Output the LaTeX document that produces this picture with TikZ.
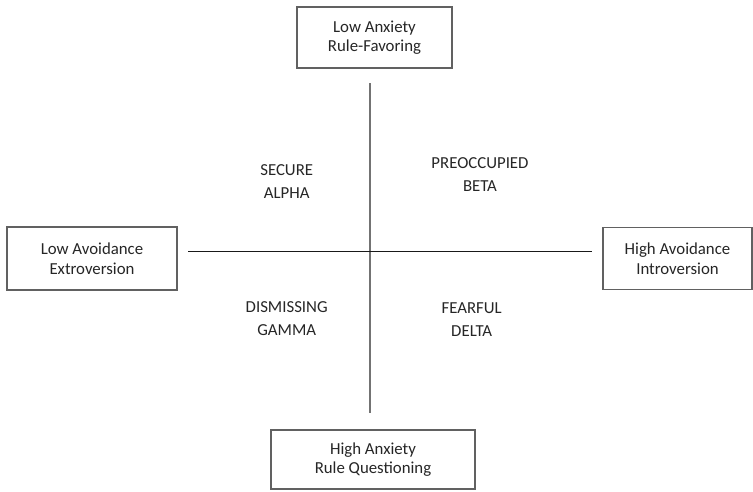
\documentclass[tikz,border=0pt]{standalone}
\usepackage{fontspec}
\setmainfont{Carlito}
\begin{document}
\begin{tikzpicture}[x=1pt,y=-1pt,
  pole/.style={draw=black!62, line width=1.6pt, fill=white, inner sep=0pt,
    align=center, font=\fontsize{16.8}{19.5}\selectfont, text=black!85},
  quad/.style={align=center, font=\fontsize{16.8}{23}\selectfont, text=black!85}]
\useasboundingbox (0,0) rectangle (753,491);
% four poles of the two axes
\node[pole, minimum width=155pt, minimum height=61pt] (top) at (374.5,37.5) {Low Anxiety\\Rule-Favoring};
\node[pole, minimum width=170pt, minimum height=63pt] (left) at (92,258.5) {Low Avoidance\\Extroversion};
\node[pole, minimum width=149pt, minimum height=62pt] (right) at (677.5,258.5) {High Avoidance\\Introversion};
\node[pole, minimum width=204pt, minimum height=59pt] (bottom) at (373,459.5) {High Anxiety\\Rule Questioning};
% axis end points
\coordinate (vt) at (370,83);
\coordinate (vb) at (370,412.5);
\coordinate (hl) at (188,251.5);
\coordinate (hr) at (592,251.5);
\draw[black!55, line width=1.8pt] (vt) -- (vb);
\draw[black!90, line width=1.3pt] (hl) -- (hr);
% quadrant labels
\node[quad] (secure) at (286.7,181.5) {SECURE\\ALPHA};
\node[quad] (preocc) at (480,174.5) {PREOCCUPIED\\BETA};
\node[quad] (dismiss) at (286.7,319) {DISMISSING\\GAMMA};
\node[quad] (fearful) at (471.7,319.5) {FEARFUL\\DELTA};
\end{tikzpicture}
\end{document}
